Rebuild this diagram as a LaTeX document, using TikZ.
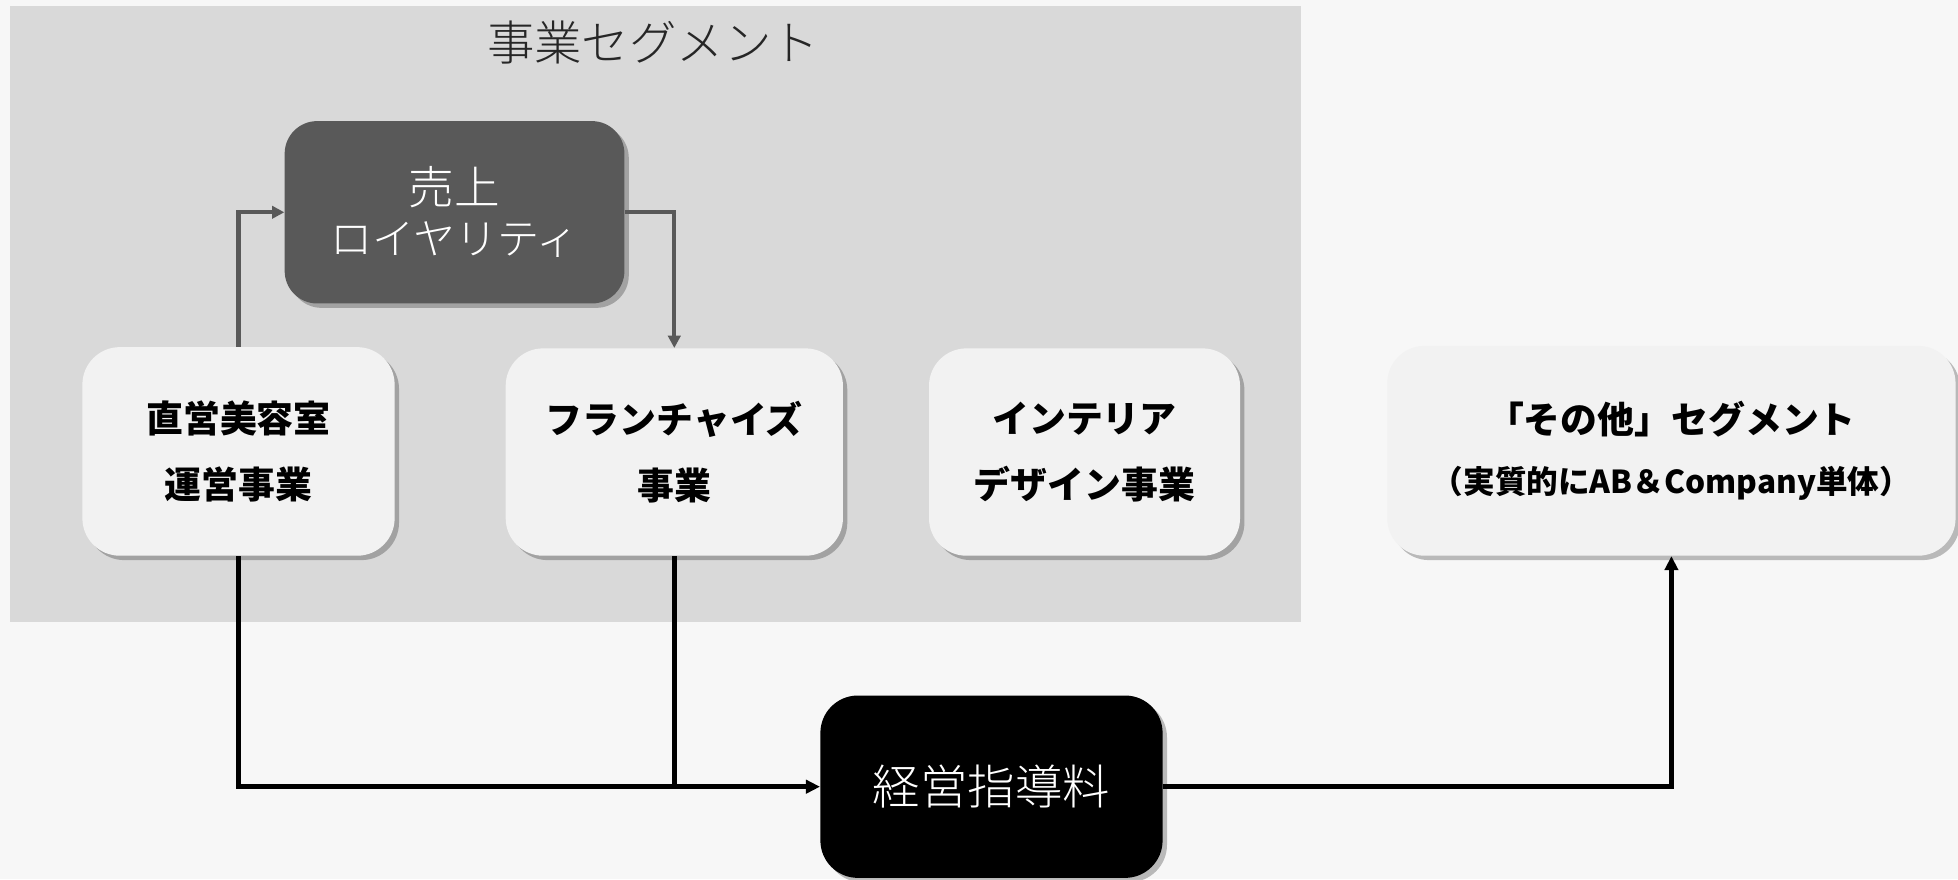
\documentclass[tikz,border=0pt]{standalone}
\usepackage{fontspec}
\newfontfamily\jp{Noto Sans CJK JP}
\newfontfamily\jpl{Noto Sans CJK JP Light}
\usetikzlibrary{arrows.meta,shadows}
\definecolor{bgc}{HTML}{F7F7F7}
\definecolor{segc}{HTML}{D9D9D9}
\definecolor{boxc}{HTML}{F2F2F2}
\definecolor{darkc}{HTML}{595959}
\definecolor{titlec}{HTML}{262626}
\tikzset{
  lightbox/.style={fill=boxc, rounded corners=0.75cm, inner sep=0pt, align=center,
    font={\jp\bfseries\fontsize{21}{37.7}\selectfont},
    drop shadow={shadow xshift=2.5pt, shadow yshift=-2.5pt, opacity=0.25, fill=black}},
  darkbox/.style={fill=darkc, rounded corners=0.65cm, inner sep=0pt, align=center, text=white,
    font={\jpl\fontsize{24}{28.4}\selectfont},
    drop shadow={shadow xshift=2.5pt, shadow yshift=-2.5pt, opacity=0.25, fill=black}},
  blackbox/.style={fill=black, rounded corners=0.75cm, inner sep=0pt, align=center, text=white,
    font={\jpl\fontsize{27}{30}\selectfont},
    drop shadow={shadow xshift=2.5pt, shadow yshift=-2.5pt, opacity=0.25, fill=black}},
  grayline/.style={draw=darkc, line width=2.4pt},
  blackline/.style={draw=black, line width=2.6pt},
  graytip/.style={-{Triangle[length=7pt,width=7pt]}},
  blacktip/.style={-{Triangle[length=8pt,width=7.5pt]}},
}
\begin{document}
\begin{tikzpicture}[x=0.025cm,y=-0.025cm]
\path[use as bounding box, fill=bgc] (0,0) rectangle (1568,704);
\fill[segc] (8,5) rectangle (1042,498);
\node[text=titlec, font={\jpl\fontsize{27}{30}\selectfont}] (title) at (523,34) {事業セグメント};

\node[darkbox, minimum width=6.8cm, minimum height=3.65cm] (dark) at (364,170)
  {{\fontsize{26}{28.4}\selectfont 売上}\\ロイヤリティ};
\node[lightbox, minimum width=6.25cm, minimum height=4.175cm] (A) at (191,361.5)
  {直営美容室\\運営事業};
\node[lightbox, minimum width=6.75cm, minimum height=4.15cm] (B) at (540,362)
  {フランチャイズ\\事業};
\node[lightbox, minimum width=6.225cm, minimum height=4.15cm] (C) at (868.5,362)
  {インテリア\\デザイン事業};
\node[lightbox, minimum width=11.375cm, minimum height=4.2cm] (D) at (1338.5,361)
  {「その他」セグメント\\[-4pt]{\fontsize{18}{22}\selectfont （実質的にAB＆Company単体）}};
\node[blackbox, minimum width=6.85cm, minimum height=3.65cm] (E) at (794,630)
  {経営指導料};

\draw[grayline, graytip] (A.north) |- (dark.west);
\draw[grayline, graytip] (dark.east) -| (B.north);
\draw[blackline, blacktip] (A.south) |- (E.west);
\draw[blackline] (B.south) -- (B.south |- E.west);
\draw[blackline, blacktip] (E.east) -| (D.south);
\end{tikzpicture}
\end{document}
